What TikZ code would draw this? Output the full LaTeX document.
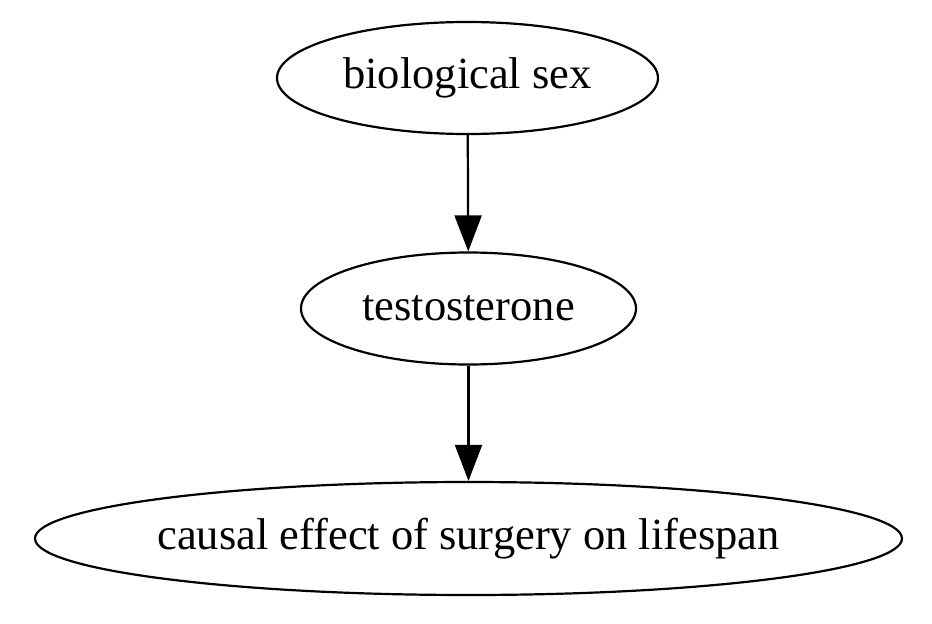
\documentclass[tikz,border=0pt]{standalone}
\usepackage{fontspec}
\setmainfont{Liberation Serif}
\usetikzlibrary{shapes.geometric,arrows.meta}
\tikzset{
  vnode/.style={ellipse, draw, line width=2.2pt, inner sep=0pt, minimum height=112pt,
    font=\fontsize{44.5}{50}\selectfont},
  edge/.style={line width=2.2pt, -{Triangle[length=36pt,width=27pt]}}
}
\begin{document}
\begin{tikzpicture}[x=1pt,y=-1pt]
\useasboundingbox (0,0) rectangle (932,624);
\node[vnode, minimum width=381pt] (sex) at (467.5,78) {biological sex};
\node[vnode, minimum width=335pt] (test) at (468.5,308.5) {testosterone};
\node[vnode, inner xsep=-20pt, minimum width=867pt, minimum height=113pt] (eff) at (468.5,538.5) {causal effect of surgery on lifespan};
\draw[edge] (sex) -- (test);
\draw[edge] (test) -- (eff);
\end{tikzpicture}
\end{document}
